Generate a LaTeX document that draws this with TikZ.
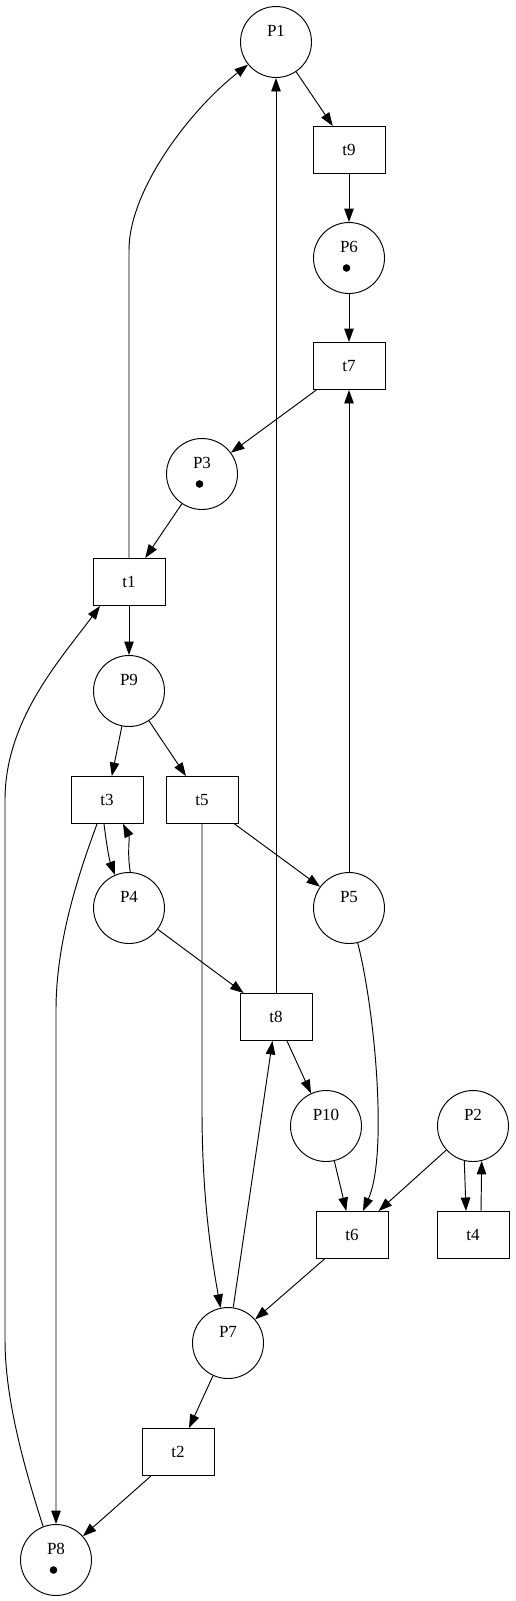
\documentclass[tikz,border=0pt]{standalone}
\usepackage{fontspec}
\setmainfont{Liberation Serif}
\usetikzlibrary{arrows.meta}
\begin{document}
\begin{tikzpicture}[x=1pt,y=-1pt,
  place/.style={circle,draw,line width=0.95pt,minimum size=71pt,inner sep=0pt},
  trans/.style={rectangle,draw,line width=0.95pt,minimum width=72pt,minimum height=47pt,inner sep=0pt,font=\fontsize{17pt}{20pt}\selectfont},
  lbl/.style={inner sep=0pt,font=\fontsize{17pt}{20pt}\selectfont},
  arr/.style={line width=0.95pt,-{Triangle[length=13.5pt,width=9.5pt]}},
  tok/.style={fill=black}]
\useasboundingbox (0,0) rectangle (515,1601);
% places
\node[place] (P1) at (276,42) {};
\node[place] (P6) at (349,258) {};
\node[place] (P3) at (202,474) {};
\node[place] (P9) at (129,691) {};
\node[place] (P4) at (129,908) {};
\node[place] (P5) at (349,908) {};
\node[place] (P10) at (326,1126) {};
\node[place] (P2) at (473,1126) {};
\node[place] (P7) at (228,1343) {};
\node[place] (P8) at (56,1560) {};
\foreach \p in {P1,P6,P3,P9,P4,P5,P10,P2,P7,P8}
  \node[lbl] (\p l) at ([yshift=11pt]\p.center) {\p};
\foreach \p in {P6,P3,P8}
  \fill[tok] ([xshift=-2.5pt,yshift=-10pt]\p.center) circle (3.8pt);
% transitions
\node[trans] (t9) at (349,150) {t9};
\node[trans] (t7) at (349,366) {t7};
\node[trans] (t1) at (129,582) {t1};
\node[trans] (t3) at (107,800) {t3};
\node[trans] (t5) at (202,800) {t5};
\node[trans] (t8) at (276,1017) {t8};
\node[trans] (t6) at (352,1235) {t6};
\node[trans] (t4) at (473,1235) {t4};
\node[trans] (t2) at (178,1452) {t2};
% coordinates for long edges
\coordinate (c1) at (129,250);
\coordinate (c3) at (56,1010);
\coordinate (c5) at (202,1110);
\coordinate (c8a) at (5,1340);
\coordinate (c8b) at (5,800);
% straight edges
\draw[arr] (P1) -- (t9);
\draw[arr] (t9) -- (P6);
\draw[arr] (P6) -- (t7);
\draw[arr] (t7) -- (P3);
\draw[arr] (P3) -- (t1);
\draw[arr] (t1) -- (P9);
\draw[arr] (t8) -- (P1);
\draw[arr] (P5) -- (t7);
\draw[arr] (P9) -- (t3);
\draw[arr] (P9) -- (t5);
\draw[arr] (t5) -- (P5);
\draw[arr] (P4) -- (t8);
\draw[arr] (t8) -- (P10);
\draw[arr] (P7) -- (t8);
\draw[arr] (P10) -- (t6);
\draw[arr] (P2) -- (t6);
\draw[arr] (P2.-104) -- ([xshift=-7pt]t4.north);
\draw[arr] ([xshift=8pt]t4.north) -- (P2.-76);
\draw[arr] (t6) -- (P7);
\draw[arr] (P7) -- (t2);
\draw[arr] (t2) -- (P8);
% curved edges
\draw[arr] (t1.north) -- (c1) .. controls (129,190) and (190,110) .. (P1.219);
\draw[arr] ([xshift=-3pt]t3.south) .. controls (106,840) and (109,859) .. (P4.113);
\draw[arr] (P4.88) .. controls (127,852) and (130,838) .. ([xshift=16pt]t3.south);
\draw[arr] ([xshift=-10pt]t3.south) .. controls (80,870) and (56,940) .. (c3) -- (P8);
\draw[arr] (t5.south) -- (c5) .. controls (202,1200) and (212,1260) .. (P7.102);
\draw[arr] (P5.-76) .. controls (375,1010) and (388,1155) .. ([xshift=11pt]t6.north);
\draw[arr] (P8.111) .. controls (25,1470) and (5,1400) .. (c8a) -- (c8b) .. controls (5,720) and (60,660) .. ([xshift=-29pt]t1.south);
\end{tikzpicture}
\end{document}
